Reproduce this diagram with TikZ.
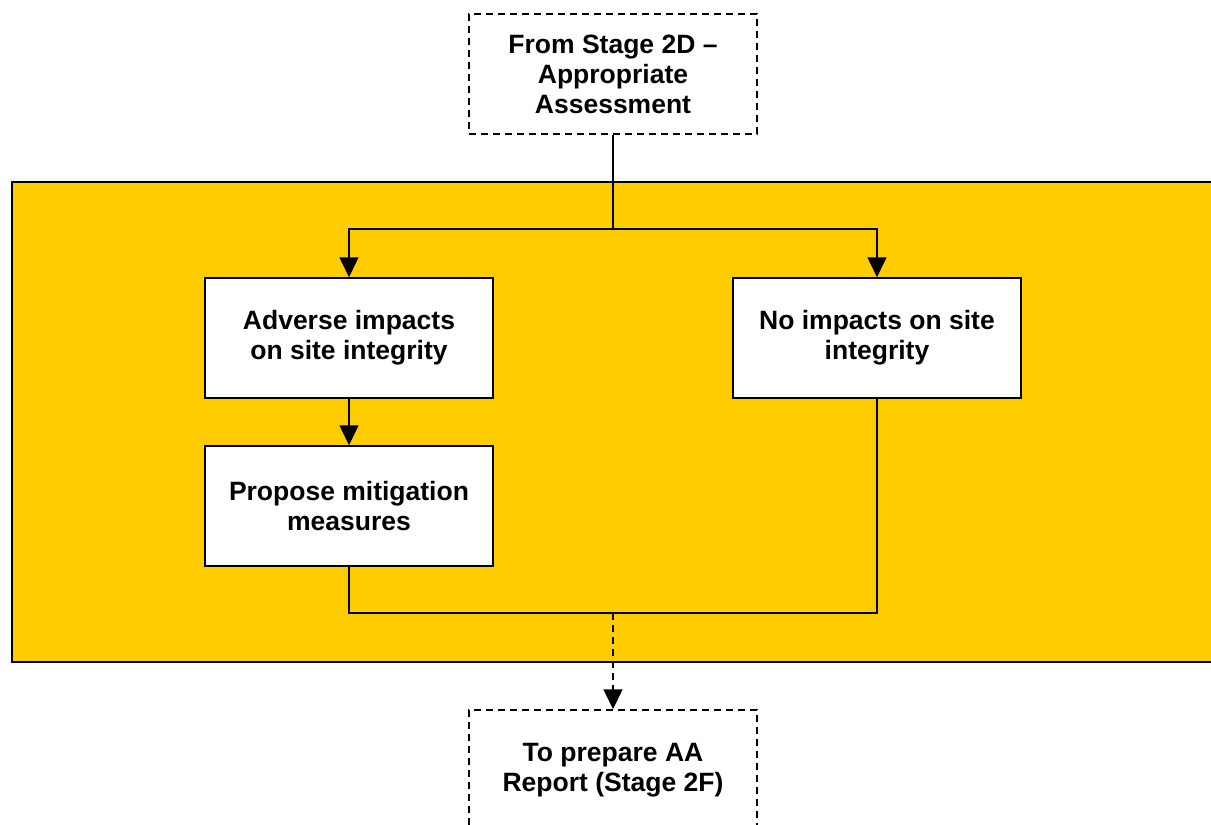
\documentclass[tikz,border=0pt]{standalone}
\usepackage{fontspec}
\setmainfont{Liberation Sans}
\usetikzlibrary{arrows.meta}
\definecolor{panelyellow}{HTML}{FFCC00}
\begin{document}
\begin{tikzpicture}[x=1bp,y=-1bp,
  every node/.style={font=\bfseries\fontsize{26.5bp}{30bp}\selectfont, align=center},
  stepbox/.style={draw=black, line width=1.5bp, fill=white, minimum width=288bp, minimum height=120bp, inner sep=0pt},
  linkbox/.style={stepbox, dash pattern=on 7bp off 5bp},
  flow/.style={draw=black, line width=1.5bp},
  tip/.style={-{Triangle[width=19bp,length=20bp]}}
]
\useasboundingbox (0,0) rectangle (1211,825);
% shaded stage panel
\draw[fill=panelyellow, draw=black, line width=1.6bp] (12,182) rectangle (1230,662);

\node[linkbox] (from) at (613,74) {From Stage 2D --\\Appropriate\\Assessment};
\node[stepbox] (adv) at (349,338) {Adverse impacts\\on site integrity};
\node[stepbox] (noimp) at (877,338) {No impacts on site\\integrity};
\node[stepbox] (mit) at (349,506) {Propose mitigation\\measures};
\node[linkbox] (report) at (613,770) {To prepare AA\\Report (Stage 2F)};

\coordinate (split) at (613,229);
\coordinate (join) at (613,613);

\draw[flow] (from) -- (split);
\draw[flow, tip] (split) -| (adv);
\draw[flow, tip] (split) -| (noimp);
\draw[flow, tip] (adv) -- (mit);
\draw[flow] (mit) |- (join);
\draw[flow] (noimp) |- (join);
\draw[flow, tip, dash pattern=on 7bp off 5bp] (join) -- (report);
\end{tikzpicture}
\end{document}
